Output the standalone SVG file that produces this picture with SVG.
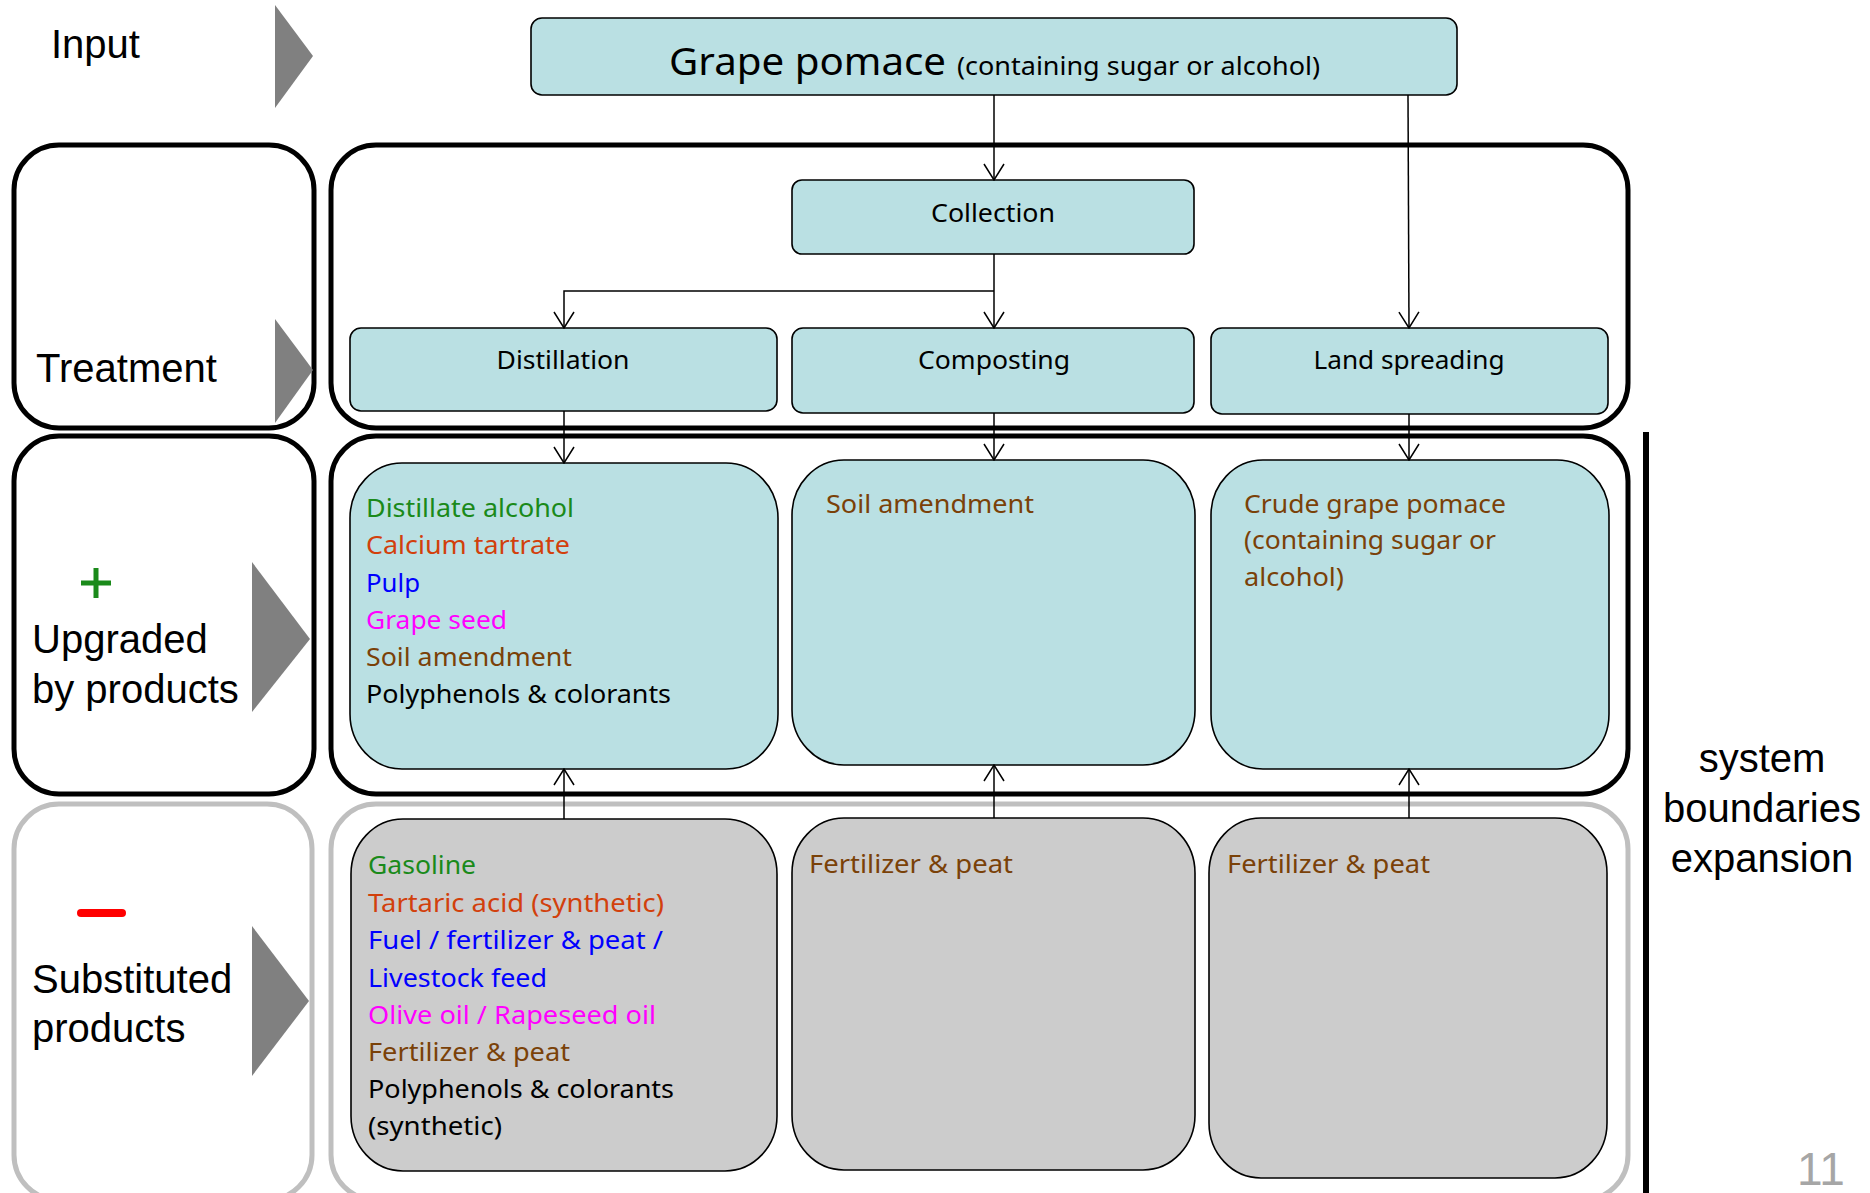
<svg xmlns="http://www.w3.org/2000/svg" width="1870" height="1193" viewBox="0 0 1870 1193">
<style>
.frame{fill:#fff;stroke:#000;stroke-width:5}
.gframe{fill:#fff;stroke:#bfbfbf;stroke-width:5}
.node{fill:#bae0e3;stroke:#000;stroke-width:1.6}
.gnode{fill:#cccccc;stroke:#000;stroke-width:1.6}
.tri{fill:#808080}
.lab{font-family:"Liberation Sans",Arial,sans-serif;font-size:40px;fill:#000}
.t{font-family:"Noto Sans","Open Sans",sans-serif;font-size:26px;fill:#000}
.c{text-anchor:middle}
.conn{fill:none;stroke:#000;stroke-width:1.5}
.green{fill:#1a8a1a}.red{fill:#d2400c}.blue{fill:#0000ff}.mag{fill:#ff00ff}.brown{fill:#7a4108}
</style>
<defs>
<marker id="arr" viewBox="0 0 20 22" refX="19" refY="11" markerWidth="20" markerHeight="22" markerUnits="userSpaceOnUse" orient="auto">
<path d="M3,1 L19,11 L3,21" fill="none" stroke="#000" stroke-width="1.5"/>
</marker>
</defs>

<!-- row labels -->
<g id="row-input">
<text class="lab" x="51" y="58">Input</text>
<polygon class="tri" points="275,5 313,56 275,108"/>
</g>
<g id="row-treatment">
<rect class="frame" x="14" y="145" width="300" height="283" rx="45" ry="45"/>
<text class="lab" x="36" y="382">Treatment</text>
<polygon class="tri" points="275,319 313,370 275,423"/>
</g>
<g id="row-upgraded">
<rect class="frame" x="14" y="436" width="300" height="358" rx="45" ry="45"/>
<path d="M96,568 V598 M81,583 H111" stroke="#1a8a1a" stroke-width="5" fill="none"/>
<text class="lab" x="32" y="653">Upgraded</text>
<text class="lab" x="32" y="703">by products</text>
<polygon class="tri" points="252,562 310,639 252,712"/>
</g>
<g id="row-substituted">
<rect class="gframe" x="14" y="804" width="298" height="396" rx="45" ry="45"/>
<line x1="81" y1="913" x2="122" y2="913" stroke="#ff0000" stroke-width="8" stroke-linecap="round"/>
<text class="lab" x="32" y="993">Substituted</text>
<text class="lab" x="32" y="1042">products</text>
<polygon class="tri" points="252,926 309,1001 252,1076"/>
</g>

<!-- big frames -->
<g id="frame-treatment"><rect class="frame" x="331" y="145" width="1297" height="283" rx="45" ry="45"/></g>
<g id="frame-upgraded"><rect class="frame" x="331" y="436" width="1297" height="358" rx="45" ry="45"/></g>
<g id="frame-substituted"><rect class="gframe" x="331" y="804" width="1297" height="396" rx="45" ry="45"/></g>

<!-- nodes -->
<g id="grape-pomace">
<rect class="node" x="531" y="18" width="926" height="77" rx="11" ry="11"/>
<text class="t" x="669" y="75" style="font-size:39px" textLength="277" lengthAdjust="spacingAndGlyphs">Grape pomace</text>
<text class="t" x="957" y="75" style="font-size:25px" textLength="363" lengthAdjust="spacingAndGlyphs">(containing sugar or alcohol)</text>
</g>
<g id="collection">
<rect class="node" x="792" y="180" width="402" height="74" rx="10" ry="10"/>
<text class="t c" x="993" y="222" textLength="124" lengthAdjust="spacingAndGlyphs">Collection</text>
</g>
<g id="distillation">
<rect class="node" x="350" y="328" width="427" height="83" rx="11" ry="11"/>
<text class="t c" x="563" y="369" textLength="133" lengthAdjust="spacingAndGlyphs">Distillation</text>
</g>
<g id="composting">
<rect class="node" x="792" y="328" width="402" height="85" rx="11" ry="11"/>
<text class="t c" x="994" y="369" textLength="152" lengthAdjust="spacingAndGlyphs">Composting</text>
</g>
<g id="land-spreading">
<rect class="node" x="1211" y="328" width="397" height="86" rx="11" ry="11"/>
<text class="t c" x="1409" y="369" textLength="191" lengthAdjust="spacingAndGlyphs">Land spreading</text>
</g>

<g id="distillation-products">
<rect class="node" x="350" y="463" width="428" height="306" rx="52" ry="55"/>
<text class="t green" x="366" y="517" textLength="208" lengthAdjust="spacingAndGlyphs">Distillate alcohol</text>
<text class="t red" x="366" y="554" textLength="204" lengthAdjust="spacingAndGlyphs">Calcium tartrate</text>
<text class="t blue" x="366" y="592" textLength="54" lengthAdjust="spacingAndGlyphs">Pulp</text>
<text class="t mag" x="366" y="629" textLength="141" lengthAdjust="spacingAndGlyphs">Grape seed</text>
<text class="t brown" x="366" y="666" textLength="206" lengthAdjust="spacingAndGlyphs">Soil amendment</text>
<text class="t" x="366" y="703" textLength="305" lengthAdjust="spacingAndGlyphs">Polyphenols &amp; colorants</text>
</g>
<g id="composting-products">
<rect class="node" x="792" y="460" width="403" height="305" rx="52" ry="55"/>
<text class="t brown" x="826" y="513" textLength="208" lengthAdjust="spacingAndGlyphs">Soil amendment</text>
</g>
<g id="land-spreading-products">
<rect class="node" x="1211" y="460" width="398" height="309" rx="52" ry="55"/>
<text class="t brown" x="1244" y="513" textLength="262" lengthAdjust="spacingAndGlyphs">Crude grape pomace</text>
<text class="t brown" x="1244" y="549" textLength="252" lengthAdjust="spacingAndGlyphs">(containing sugar or</text>
<text class="t brown" x="1244" y="586" textLength="100" lengthAdjust="spacingAndGlyphs">alcohol)</text>
</g>

<g id="distillation-substituted">
<rect class="gnode" x="351" y="819" width="426" height="352" rx="52" ry="55"/>
<text class="t green" x="368" y="874" textLength="108" lengthAdjust="spacingAndGlyphs">Gasoline</text>
<text class="t red" x="368" y="912" textLength="296" lengthAdjust="spacingAndGlyphs">Tartaric acid (synthetic)</text>
<text class="t blue" x="368" y="949" textLength="295" lengthAdjust="spacingAndGlyphs">Fuel / fertilizer &amp; peat /</text>
<text class="t blue" x="368" y="987" textLength="179" lengthAdjust="spacingAndGlyphs">Livestock feed</text>
<text class="t mag" x="368" y="1024" textLength="288" lengthAdjust="spacingAndGlyphs">Olive oil / Rapeseed oil</text>
<text class="t brown" x="368" y="1061" textLength="202" lengthAdjust="spacingAndGlyphs">Fertilizer &amp; peat</text>
<text class="t" x="368" y="1098" textLength="306" lengthAdjust="spacingAndGlyphs">Polyphenols &amp; colorants</text>
<text class="t" x="368" y="1135" textLength="134" lengthAdjust="spacingAndGlyphs">(synthetic)</text>
</g>
<g id="composting-substituted">
<rect class="gnode" x="792" y="818" width="403" height="352" rx="52" ry="55"/>
<text class="t brown" x="809" y="873" textLength="204" lengthAdjust="spacingAndGlyphs">Fertilizer &amp; peat</text>
</g>
<g id="land-spreading-substituted">
<rect class="gnode" x="1209" y="818" width="398" height="360" rx="52" ry="55"/>
<text class="t brown" x="1227" y="873" textLength="203" lengthAdjust="spacingAndGlyphs">Fertilizer &amp; peat</text>
</g>

<!-- connectors -->
<g id="connectors">
<path class="conn" d="M994,95 V180" marker-end="url(#arr)"/>
<path class="conn" d="M994,254 V328" marker-end="url(#arr)"/>
<path class="conn" d="M994,291 H564 V328" marker-end="url(#arr)"/>
<path class="conn" d="M1408,95 L1409,328" marker-end="url(#arr)"/>
<path class="conn" d="M564,411 V463" marker-end="url(#arr)"/>
<path class="conn" d="M994,413 V460" marker-end="url(#arr)"/>
<path class="conn" d="M1409,414 V460" marker-end="url(#arr)"/>
<path class="conn" d="M564,819 V769" marker-end="url(#arr)"/>
<path class="conn" d="M994,818 V765" marker-end="url(#arr)"/>
<path class="conn" d="M1409,818 V769" marker-end="url(#arr)"/>
</g>

<!-- system boundaries -->
<g id="system-boundaries">
<line x1="1646" y1="432" x2="1646" y2="1193" stroke="#000" stroke-width="6"/>
<text class="lab c" x="1762" y="772">system</text>
<text class="lab c" x="1762" y="822">boundaries</text>
<text class="lab c" x="1762" y="872">expansion</text>
</g>
<text x="1797" y="1185" style="font-family:'Liberation Sans',Arial,sans-serif;font-size:46px;fill:#a6a6a6">11</text>
</svg>
